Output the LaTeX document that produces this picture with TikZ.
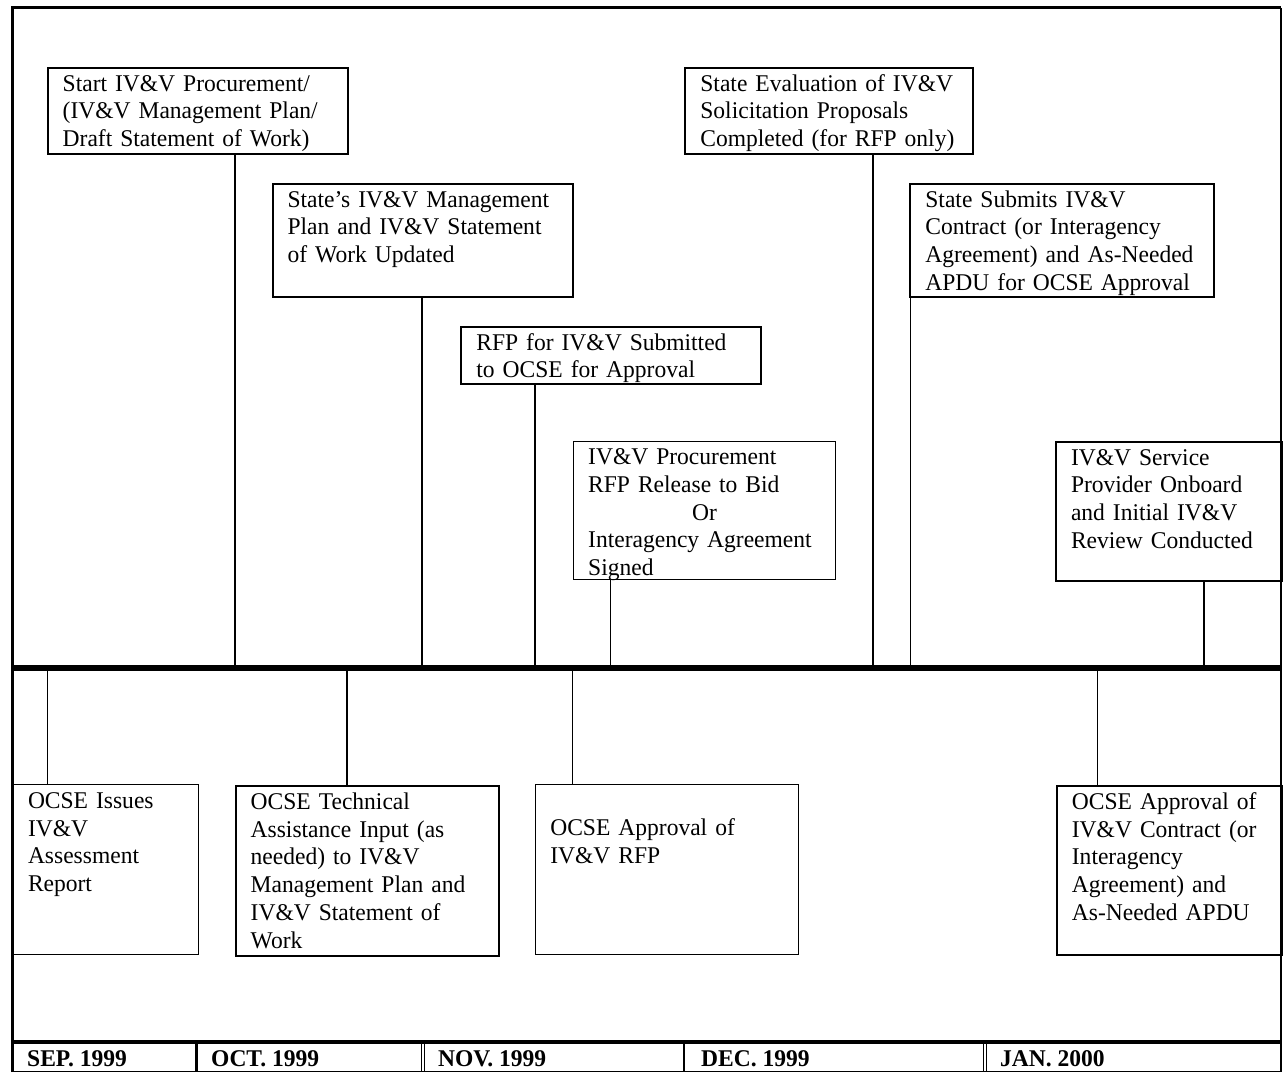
\documentclass[tikz,border=0pt]{standalone}
\usepackage{fontspec}
\setmainfont{Liberation Serif}[FakeStretch=0.98]
\usepackage{tikz}
\usepackage{xcolor}

\begin{document}
\begin{tikzpicture}[x=1pt, y=-1pt,
  event/.style={draw, line width=2pt, rectangle, anchor=north west, align=left,
    inner xsep=15pt, inner ysep=0pt, text height=23.5pt,
    font=\fontsize{24}{27.7}\selectfont},
  thinevent/.style={event, line width=1pt},
  link/.style={line width=2pt},
  thinlink/.style={line width=1pt},
  month/.style={anchor=base west, inner sep=0pt,
    font=\fontsize{24}{27.7}\selectfont\bfseries}]
  \useasboundingbox (0,0) rectangle (1285,1073);

  % Outer frame and the month row
  \draw[line width=3pt] (12.5,1072) -- (12.5,8) -- (1281,8);
  \draw[line width=2.5pt] (1281,8) -- (1281,1072);
  \draw[line width=1.5pt] (12.5,1071.5) -- (1281,1071.5);
  \draw[line width=4pt] (12.5,1042) -- (1281,1042);
  \draw[line width=2.5pt] (196.5,1042) -- (196.5,1072);
  \draw[line width=1pt] (421,1042) -- (421,1072) (424,1042) -- (424,1072);
  \draw[line width=2.5pt] (684,1042) -- (684,1072);
  \draw[line width=1pt] (983.5,1042) -- (983.5,1072) (986.5,1042) -- (986.5,1072);

  % The time line
  \draw[line width=5.7pt] (12.5,668) -- (1281,668);

  % Events above the line
  \node[event, text width=270.3pt, text depth=62.8pt] (start) at (46.7,66.7)
    {Start IV\&V Procurement/\\(IV\&V Management Plan/\\Draft Statement of Work)};
  \node[event, text width=270.4pt, text depth=89.8pt] (update) at (271.6,182.7)
    {State’s IV\&V Management\\Plan and IV\&V Statement\\of Work Updated};
  \node[event, text width=269.6pt, text depth=33.5pt] (rfp) at (460.4,325.7)
    {RFP for IV\&V Submitted\\to OCSE for Approval};
  \node[thinevent, text width=232.3pt, text depth=115.1pt] (release) at (572.7,440.7)
    {IV\&V Procurement\\RFP Release to Bid\\\hspace*{104pt}Or\\Interagency Agreement\\Signed};
  \node[event, text width=258pt, text depth=62.8pt] (evaluate) at (684.4,66.7)
    {State Evaluation of IV\&V\\Solicitation Proposals\\Completed (for RFP only)};
  \node[event, text width=273.2pt, text depth=89.8pt] (submit) at (909.4,182.7)
    {State Submits IV\&V\\Contract (or Interagency\\Agreement) and As-Needed\\APDU for OCSE Approval};
  \node[event, text width=196pt, text depth=115.8pt] (onboard) at (1055,440.7)
    {IV\&V Service\\Provider Onboard\\and Initial IV\&V\\Review Conducted};

  % Events below the line
  \node[thinevent, text width=155.3pt, text depth=146.5pt] (report) at (12.5,784.3)
    {OCSE Issues\\IV\&V\\Assessment\\Report};
  \node[event, text width=232.8pt, text depth=146.5pt] (assist) at (234.7,785)
    {OCSE Technical\\Assistance Input (as\\needed) to IV\&V\\Management Plan and\\IV\&V Statement of\\Work};
  \node[thinevent, text width=233pt, text depth=146.5pt] (rfpok) at (534.8,784)
    {\mbox{}\\OCSE Approval of\\IV\&V RFP};
  \node[event, text width=195pt, text depth=145.5pt] (contractok) at (1055.9,785)
    {OCSE Approval of\\IV\&V Contract (or\\Interagency\\Agreement) and\\As-Needed APDU};

  % Points on the time line
  \coordinate (t1) at (235,668);
  \coordinate (t2) at (422,668);
  \coordinate (t3) at (534.5,668);
  \coordinate (t4) at (610.5,668);
  \coordinate (t5) at (873,668);
  \coordinate (t6) at (910,668);
  \coordinate (t7) at (1204,668);
  \coordinate (b1) at (47,668);
  \coordinate (b2) at (347,668);
  \coordinate (b3) at (572.5,668);
  \coordinate (b4) at (1097.5,668);

  % Drop lines to the time line
  \draw[link] (start.south -| t1) -- (t1);
  \draw[link] (update.south -| t2) -- (t2);
  \draw[link] (rfp.south -| t3) -- (t3);
  \draw[thinlink] (release.south -| t4) -- (t4);
  \draw[link] (evaluate.south -| t5) -- (t5);
  \draw[thinlink] (submit.south -| t6) -- (t6);
  \draw[link] (onboard.south -| t7) -- (t7);
  \draw[thinlink] (b1) -- (b1 |- report.north);
  \draw[link] (b2) -- (b2 |- assist.north);
  \draw[thinlink] (b3) -- (b3 |- rfpok.north);
  \draw[thinlink] (b4) -- (b4 |- contractok.north);

  % Months
  \node[month] (sep) at (27,1066) {SEP. 1999};
  \node[month] (oct) at (211,1066) {OCT. 1999};
  \node[month] (nov) at (438,1066) {NOV. 1999};
  \node[month] (dec) at (701,1066) {DEC. 1999};
  \node[month] (jan) at (1000,1066) {JAN. 2000};
\end{tikzpicture}
\end{document}
